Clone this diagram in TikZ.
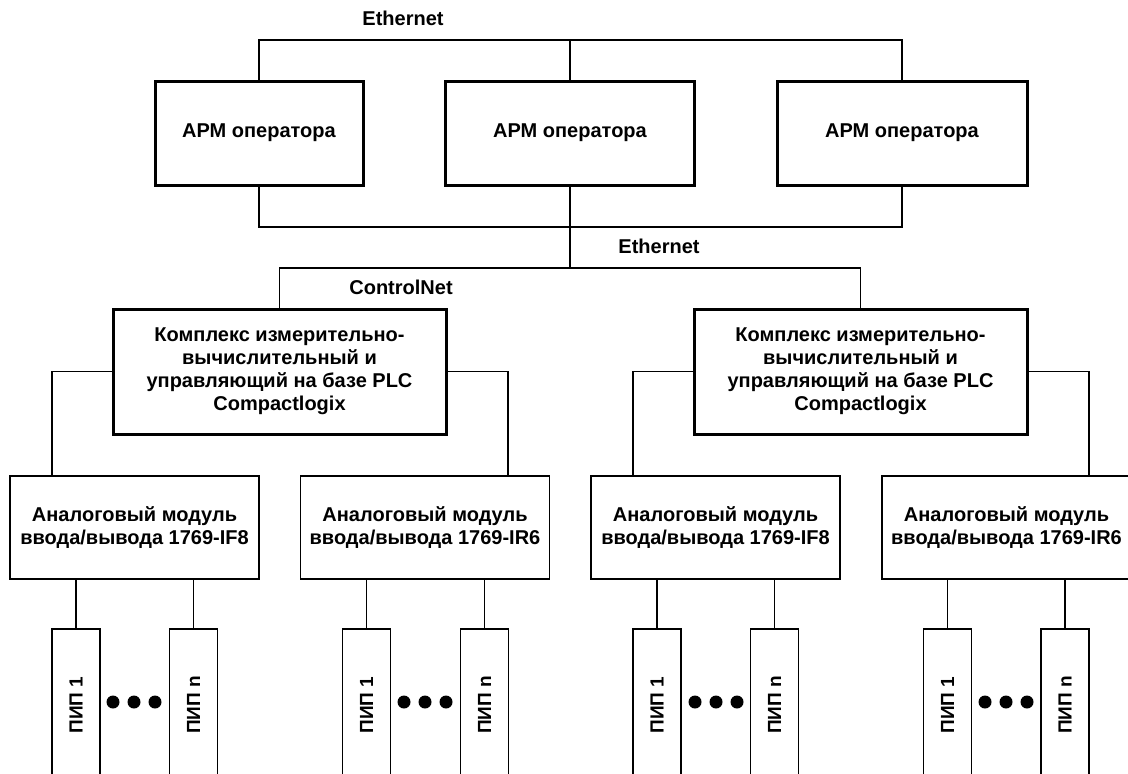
\documentclass[tikz,border=0pt]{standalone}
\usepackage{fontspec}
\setmainfont{Liberation Sans}
\usepackage{graphicx}
\begin{document}
\begin{tikzpicture}[x=1pt,y=-1pt,
  lbl/.style={font=\fontsize{20}{23}\selectfont\bfseries, inner sep=0pt},
  apm/.style={draw, line width=3pt, minimum width=#1, minimum height=104pt, inner sep=0pt, font=\fontsize{20}{23}\selectfont\bfseries},
  plc/.style={draw, line width=3pt, minimum width=333pt, minimum height=125pt, inner sep=0pt, align=center, font=\fontsize{20}{23}\selectfont\bfseries},
  modbox/.style={draw, line width=1.5pt, minimum width=249pt, minimum height=103pt, inner sep=0pt, align=center, font=\fontsize{20}{23}\selectfont\bfseries},
  sens/.style={draw, line width=1.2pt, minimum width=48pt, minimum height=152pt, inner sep=0pt, font=\fontsize{19}{21}\selectfont\bfseries},
  wire/.style={line width=1.5pt},
  dotn/.style={circle, fill=black, minimum size=13pt, inner sep=0pt}
]
\useasboundingbox (0,0) rectangle (1128,774);

% labels
\node[lbl] (eth1) at (403,18) {Ethernet};
\node[lbl] (eth2) at (659,246) {Ethernet};
\node[lbl] (cnet) at (401,287) {ControlNet};

% operator stations
\node[apm=208pt] (apm1) at (259,133) {АРМ оператора};
\node[apm=249pt] (apm2) at (570,133) {АРМ оператора};
\node[apm=250pt] (apm3) at (902,133) {АРМ оператора};

% PLC complexes
\node[plc] (plc1) at (279.5,371.5) {Комплекс измерительно-\\вычислительный и\\управляющий на базе PLC\\Compactlogix};
\node[plc] (plc2) at (860.5,371.5) {Комплекс измерительно-\\вычислительный и\\управляющий на базе PLC\\Compactlogix};

% modules
\node[modbox] (mod1) at (134.5,527.5) {Аналоговый модуль\\ввода/вывода 1769-IF8};
\node[modbox] (mod2) at (425,527.5) {Аналоговый модуль\\ввода/вывода 1769-IR6};
\node[modbox] (mod3) at (715.5,527.5) {Аналоговый модуль\\ввода/вывода 1769-IF8};
\node[modbox] (mod4) at (1006.5,527.5) {Аналоговый модуль\\ввода/вывода 1769-IR6};

% sensors
\node[sens] (s11) at (76,705) {\rotatebox{90}{ПИП 1}};
\node[sens] (s1n) at (193.5,705) {\rotatebox{90}{ПИП n}};
\node[sens] (s21) at (366.5,705) {\rotatebox{90}{ПИП 1}};
\node[sens] (s2n) at (484.5,705) {\rotatebox{90}{ПИП n}};
\node[sens] (s31) at (657,705) {\rotatebox{90}{ПИП 1}};
\node[sens] (s3n) at (774.5,705) {\rotatebox{90}{ПИП n}};
\node[sens] (s41) at (947.5,705) {\rotatebox{90}{ПИП 1}};
\node[sens] (s4n) at (1065,705) {\rotatebox{90}{ПИП n}};

% dots
\foreach \i/\x in {1/113,2/134,3/155,4/404,5/425,6/446,7/695,8/716,9/737,10/985,11/1006,12/1027}
  \node[dotn] (d\i) at (\x,702) {};

% Ethernet (top)
\coordinate (e1) at (570,40);
\draw[wire] (apm1.north) |- (e1) -| (apm3.north);
\draw[wire] (apm2.north) -- (e1);

% Ethernet (bottom)
\coordinate (e2) at (570,227);
\coordinate (c1) at (570,268);
\draw[wire] (apm1.south) |- (e2) -| (apm3.south);
\draw[wire] (apm2.south) -- (e2) -- (c1);

% ControlNet
\draw[wire] (plc1.north) |- (c1) -| (plc2.north);

% PLC to modules
\draw[wire] (plc1.west) -| ([xshift=-82.5pt]mod1.north);
\draw[wire] (plc1.east) -| ([xshift=83pt]mod2.north);
\draw[wire] (plc2.west) -| ([xshift=-82.5pt]mod3.north);
\draw[wire] (plc2.east) -| ([xshift=82.5pt]mod4.north);

% modules to sensors
\foreach \s/\m in {s11/mod1,s1n/mod1,s21/mod2,s2n/mod2,s31/mod3,s3n/mod3,s41/mod4,s4n/mod4}
  \draw[wire] (\s.north) -- (\s.north |- \m.south);
\end{tikzpicture}
\end{document}
